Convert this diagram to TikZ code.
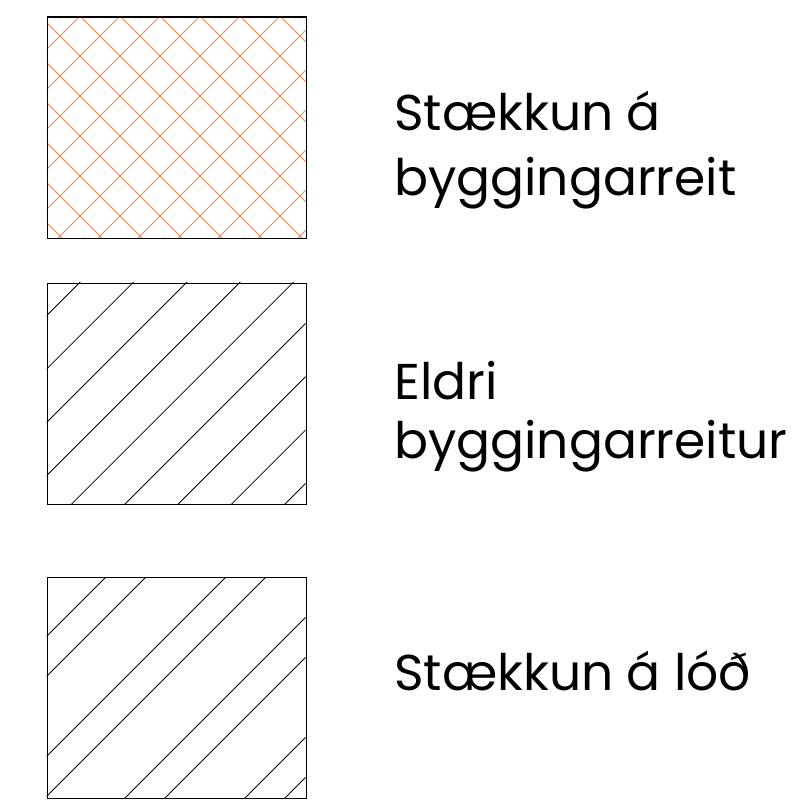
\documentclass[tikz,border=0pt]{standalone}
\usepackage{fontspec}
\setmainfont{Poppins}
\definecolor{hatchorange}{RGB}{243,132,72}
\begin{document}
\begin{tikzpicture}[x=1bp,y=-1bp,
  legbox/.style={draw=black,line width=1.1bp,fill=none,inner sep=0pt,anchor=north west,minimum width=259bp,minimum height=221.5bp},
  hatchline/.style={line width=0.8bp,draw=black},
  orangehatch/.style={line width=0.9bp,draw=hatchorange},
  legtext/.style={anchor=base west,inner sep=0pt,font=\fontsize{50.5}{60}\selectfont}]
\useasboundingbox (0,0) rectangle (802,801);
% box 1: cross hatch
\begin{scope}
  \clip (46.5,16.5) rectangle (305.5,238);
  \foreach \c in {56,96,...,576} \draw[orangehatch] ({\c-400},400) -- (\c,0);
  \foreach \c in {-216,-176,...,304} \draw[orangehatch] (\c,0) -- ({\c+400},400);
\end{scope}
\node[legbox] (box1) at (46.5,16.5) {};
% box 2: single hatch
\begin{scope}
  \clip (46.5,282.5) rectangle (305.5,504);
  \foreach \c in {362.3,415.63,468.96,522.3,575.63,628.96,682.3,735.63,788.96}
    \draw[hatchline] ({\c-800},800) -- ({\c-200},200);
\end{scope}
\node[legbox] (box2) at (46.5,282.5) {};
% box 3: paired hatch
\begin{scope}
  \clip (46.5,577) rectangle (305.5,798);
  \foreach \c in {683,723,803,843,923,963,1043,1083}
    \draw[hatchline] ({\c-1000},1000) -- ({\c-500},500);
\end{scope}
\node[legbox,minimum height=221bp] (box3) at (46.5,577) {};
% labels
\node[legtext] (t1a) at (394,130) {Stækkun á};
\node[legtext] (t1b) at (394,195) {byggingarreit};
\node[legtext] (t2a) at (394,399) {Eldri};
\node[legtext] (t2b) at (394,458) {byggingarreitur};
\node[legtext] (t3a) at (394,690) {Stækkun á lóð};
\end{tikzpicture}
\end{document}
